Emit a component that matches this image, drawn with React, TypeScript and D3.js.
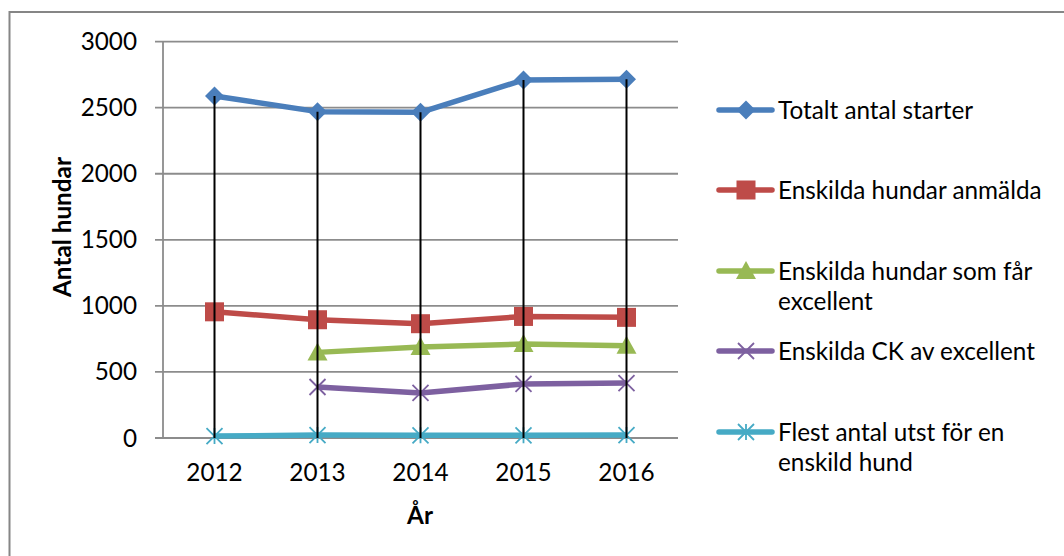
import React from "react";
import * as d3 from "d3";

const years = ["2012", "2013", "2014", "2015", "2016"];
const totalStarts = [2589, 2470, 2465, 2710, 2715];
const dogsEntered = [955, 895, 865, 920, 913];
const dogsExcellent = [null, 648, 689, 711, 699];
const ckOfExcellent = [null, 386, 341, 409, 416];
const maxShows = [15, 22, 20, 20, 22];
const yTicks = [0, 500, 1000, 1500, 2000, 2500, 3000];

const seriesNames = [
  ["Totalt antal starter"],
  ["Enskilda hundar anmälda"],
  ["Enskilda hundar som får", "excellent"],
  ["Enskilda CK av excellent"],
  ["Flest antal utst för en", "enskild hund"],
];
const seriesColors = ["#4A7EBB", "#BE4B48", "#98B954", "#7D60A0", "#46AAC5"];
const seriesMarkers = ["diamond", "square", "triangle", "x", "star"];
const seriesValues = [totalStarts, dogsEntered, dogsExcellent, ckOfExcellent, maxShows];

const FONT = "Lato, 'Open Sans', 'DejaVu Sans', sans-serif";
const FS = 24.3;

function Marker({ type, x, y, color }: { type: string; x: number; y: number; color: string }) {
  if (type === "diamond") {
    const r = 9.5;
    return <path d={`M${x},${y - r}L${x + r},${y}L${x},${y + r}L${x - r},${y}Z`} fill={color} />;
  }
  if (type === "square") {
    const r = 9.5;
    return <rect x={x - r} y={y - r} width={2 * r} height={2 * r} fill={color} />;
  }
  if (type === "triangle") {
    const r = 10;
    return <path d={`M${x},${y - r}L${x + r},${y + r * 0.8}L${x - r},${y + r * 0.8}Z`} fill={color} />;
  }
  if (type === "x") {
    const r = 8;
    return (
      <path d={`M${x - r},${y - r}L${x + r},${y + r}M${x - r},${y + r}L${x + r},${y - r}`} stroke={color} strokeWidth={1.8} />
    );
  }
  const r = 8;
  return (
    <path
      d={`M${x - r},${y - r}L${x + r},${y + r}M${x - r},${y + r}L${x + r},${y - r}M${x},${y - r}L${x},${y + r}`}
      stroke={color}
      strokeWidth={1.8}
    />
  );
}

export default function App() {
  const W = 1064;
  const H = 556;
  const plotL = 163;
  const plotR = 678;
  const x = d3.scaleBand<string>().domain(years).range([plotL, plotR]);
  const y = d3.scaleLinear().domain([0, 3000]).range([438, 41.6]);
  const cx = (yr: string) => (x(yr) as number) + x.bandwidth() / 2;

  const line = d3
    .line<[string, number | null]>()
    .defined((d) => d[1] !== null)
    .x((d) => cx(d[0]))
    .y((d) => y(d[1] as number));

  const legendY = [110, 190, 271, 351, 432];

  return (
    <svg width={W} height={H} style={{ position: "absolute", left: 0, top: 0 }} fontFamily={FONT}>
      <rect x={0} y={0} width={W} height={H} fill="#fff" />
      <rect x={9.5} y={12} width={1080} height={600} fill="none" stroke="#868686" strokeWidth={2} />

      {/* gridlines */}
      {yTicks.map((t) => (
        <g key={t}>
          <line x1={155} x2={plotR} y1={y(t)} y2={y(t)} stroke="#8C8C8C" strokeWidth={1.8} />
          <text x={137} y={y(t)} dy="0.35em" textAnchor="end" fontSize={FS} fill="#000">
            {t}
          </text>
        </g>
      ))}
      <line x1={plotL} x2={plotL} y1={y(3000)} y2={y(0)} stroke="#8C8C8C" strokeWidth={1.8} />

      {/* series */}
      {seriesValues.map((vals, si) => {
        const pts: [string, number | null][] = years.map((yr, i) => [yr, vals[i]]);
        return (
          <g key={si}>
            <path d={line(pts) || ""} fill="none" stroke={seriesColors[si]} strokeWidth={5.5} strokeLinejoin="round" />
            {pts.map((p, i) =>
              p[1] === null ? null : (
                <Marker key={i} type={seriesMarkers[si]} x={cx(p[0])} y={y(p[1])} color={seriesColors[si]} />
              )
            )}
          </g>
        );
      })}
      {/* drop lines, drawn over the series */}
      {years.map((yr, i) => (
        <line key={"d" + yr} x1={cx(yr)} x2={cx(yr)} y1={y(totalStarts[i])} y2={y(0)} stroke="#000" strokeWidth={2} />
      ))}

      {/* x tick labels */}
      {years.map((yr) => (
        <text key={yr} x={cx(yr)} y={472} dy="0.35em" textAnchor="middle" fontSize={FS} fill="#000">
          {yr}
        </text>
      ))}

      {/* axis titles */}
      <text x={420} y={515} dy="0.35em" textAnchor="middle" fontSize={FS} fontWeight="bold" fill="#000">
        År
      </text>
      <text
        transform={`translate(62,227) rotate(-90)`}
        dy="0.35em"
        textAnchor="middle"
        fontSize={FS}
        fontWeight="bold"
        fill="#000"
      >
        Antal hundar
      </text>

      {/* legend */}
      {seriesNames.map((lines, si) => (
        <g key={si}>
          <line x1={719} x2={772} y1={legendY[si]} y2={legendY[si]} stroke={seriesColors[si]} strokeWidth={5.5} strokeLinecap="round" />
          <Marker type={seriesMarkers[si]} x={746} y={legendY[si]} color={seriesColors[si]} />
          {lines.map((ln, li) => (
            <text key={li} x={778} y={legendY[si] + li * 30.5} dy="0.35em" fontSize={FS} fill="#000">
              {ln}
            </text>
          ))}
        </g>
      ))}
    </svg>
  );
}
